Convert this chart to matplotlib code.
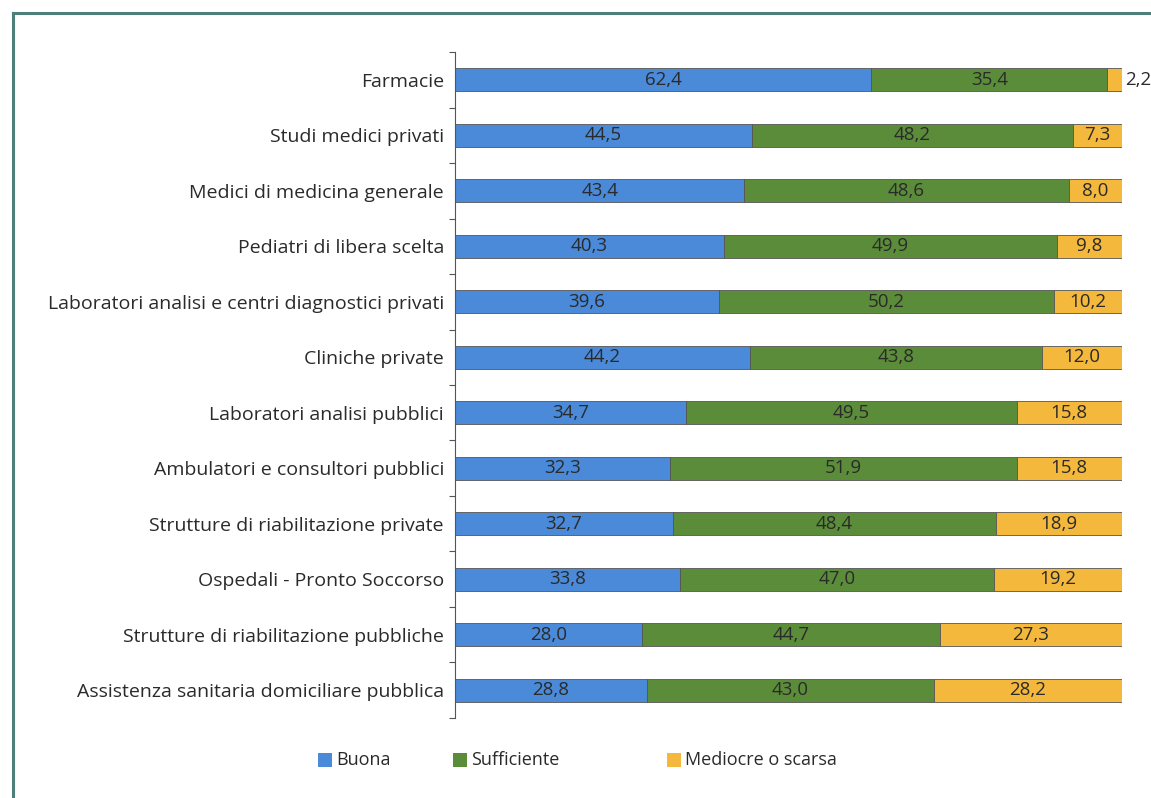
import matplotlib.pyplot as plt
from matplotlib.lines import Line2D
from matplotlib.patches import Rectangle

plt.rcParams['font.family'] = ['Open Sans', 'DejaVu Sans']

# Dati (percentuali)
categorie = ['Farmacie', 'Studi medici privati', 'Medici di medicina generale',
             'Pediatri di libera scelta', 'Laboratori analisi e centri diagnostici privati',
             'Cliniche private', 'Laboratori analisi pubblici', 'Ambulatori e consultori pubblici',
             'Strutture di riabilitazione private', 'Ospedali - Pronto Soccorso',
             'Strutture di riabilitazione pubbliche', 'Assistenza sanitaria domiciliare pubblica']
buona = [62.4, 44.5, 43.4, 40.3, 39.6, 44.2, 34.7, 32.3, 32.7, 33.8, 28.0, 28.8]
sufficiente = [35.4, 48.2, 48.6, 49.9, 50.2, 43.8, 49.5, 51.9, 48.4, 47.0, 44.7, 43.0]
mediocre = [2.2, 7.3, 8.0, 9.8, 10.2, 12.0, 15.8, 15.8, 18.9, 19.2, 27.3, 28.2]
serie_nomi = ['Buona', 'Sufficiente', 'Mediocre o scarsa']
colori = ['#4a8ad8', '#5b8c3a', '#f3b83c']

W, H = 1151, 798
fig = plt.figure(figsize=(W / 100, H / 100), dpi=100)
ax = fig.add_axes([0.3953, 0.1003, 0.5795, 0.8345])

y = list(range(len(categorie)))
left = [0] * len(categorie)
for valori, colore in zip([buona, sufficiente, mediocre], colori):
    bars = ax.barh(y, valori, left=left, height=0.42, color=colore,
                   edgecolor='#555555', linewidth=0.6)
    for bar, v in zip(bars, valori):
        testo = f'{v:.1f}'.replace('.', ',')
        if v < 4:
            # valore troppo piccolo: etichetta fuori dalla barra
            ax.text(bar.get_x() + bar.get_width() + 0.4, bar.get_y() + bar.get_height() / 2,
                    testo, ha='left', va='center', fontsize=13.5, color='#2a2a2a', clip_on=False)
        else:
            ax.text(bar.get_x() + bar.get_width() / 2, bar.get_y() + bar.get_height() / 2,
                    testo, ha='center', va='center', fontsize=13.5, color='#2a2a2a')
    left = [a + b for a, b in zip(left, valori)]

ax.set_xlim(0, 100)
ax.set_ylim(len(categorie) - 0.5, -0.5)
ax.set_yticks(y)
ax.set_yticklabels(categorie, fontsize=14, color='#2a2a2a')
ax.set_yticks([i - 0.5 for i in range(len(categorie) + 1)], minor=True)
ax.tick_params(axis='y', which='major', length=0, pad=8)
ax.tick_params(axis='y', which='minor', length=4, width=0.8, color='#555555')
ax.set_xticks([])
for s in ['top', 'right', 'bottom']:
    ax.spines[s].set_visible(False)
ax.spines['left'].set_color('#555555')
ax.spines['left'].set_linewidth(0.8)

# Legenda (posizionata a mano, come nell'originale)
leg_x = [318, 453, 667]
leg_y = 760
lato = 14
for nome, colore, x in zip(serie_nomi, colori, leg_x):
    fig.add_artist(Rectangle((x / W, (H - leg_y - lato / 2) / H), lato / W, lato / H,
                             transform=fig.transFigure, facecolor=colore, edgecolor='none'))
    fig.text((x + lato + 4) / W, (H - leg_y) / H, nome, ha='left', va='center',
             fontsize=13, color='#2a2a2a')

# Cornice della pagina
bordo = '#4f7f7a'
fig.add_artist(Line2D([13 / W, 13 / W], [0, 1 - 13 / H], transform=fig.transFigure,
                      color=bordo, linewidth=2.2))
fig.add_artist(Line2D([13 / W, 1], [1 - 13 / H, 1 - 13 / H], transform=fig.transFigure,
                      color=bordo, linewidth=2.2))

fig.savefig('out.png', dpi=100)
